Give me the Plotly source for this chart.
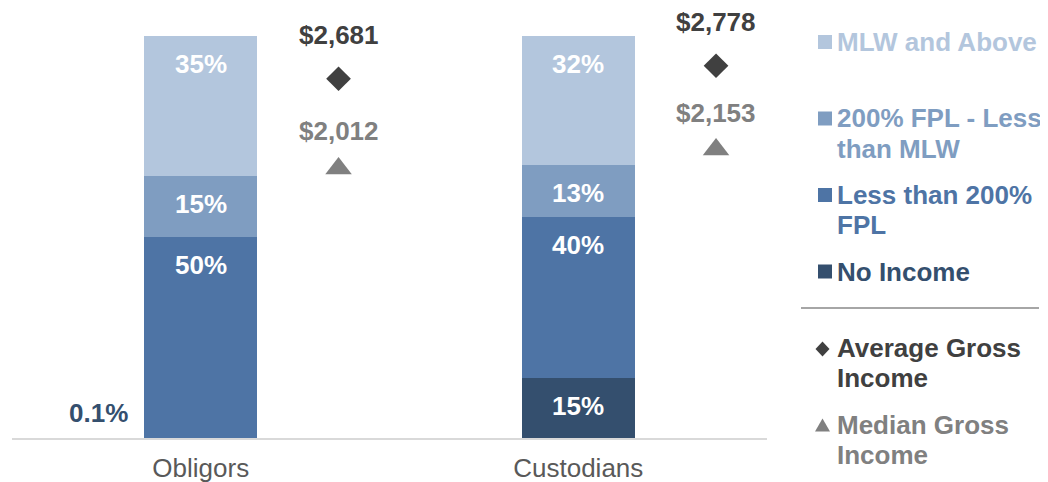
import plotly.graph_objects as go

# ---------------- data ----------------
categories = ["Obligors", "Custodians"]
no_income = [0.1, 15]
less_than_200 = [50, 40]
fpl200_to_mlw = [15, 13]
mlw_and_above = [35, 32]
avg_gross_income = [2681, 2778]
median_gross_income = [2012, 2153]

series_names = ["No Income", "Less than 200% FPL", "200% FPL - Less than MLW", "MLW and Above"]
series_values = [no_income, less_than_200, fpl200_to_mlw, mlw_and_above]
series_colors = ["#344F6E", "#4E74A5", "#7F9DC1", "#B3C6DD"]
avg_color = "#404040"
median_color = "#808080"

FONT = "Liberation Sans, Arial, Helvetica, sans-serif"
FS = 26
BAR_W = 0.3
MARK_OFF = 0.365

# page geometry: the page body has an 8px margin, so the figure is drawn offset by 8px
OFF = 8
W, H = 1048 - OFF, 482 - OFF
# plot area in page pixels: x 12..767, y 36..438
ML, MT = 12 - OFF, 36 - OFF
MR = W - (767 - OFF)
MB = H - (438 - OFF)
PW = W - ML - MR
PH = H - MT - MB


def px_x(page_px):
    return (page_px - OFF - ML) / PW


def px_y(page_py):
    return (H - MB - (page_py - OFF)) / PH


xs = list(range(len(categories)))
fig = go.Figure()

for name, vals, col in zip(series_names, series_values, series_colors):
    fig.add_trace(go.Bar(
        x=xs, y=vals, name=name, width=BAR_W,
        marker=dict(color=col, line=dict(width=0)),
        showlegend=False, hoverinfo="skip",
    ))

fig.add_trace(go.Scatter(
    x=[i + MARK_OFF for i in xs], y=avg_gross_income, yaxis="y2",
    mode="markers", name="Average Gross Income",
    marker=dict(symbol="diamond", size=19, color=avg_color),
    showlegend=False, hoverinfo="skip",
))
fig.add_trace(go.Scatter(
    x=[i + MARK_OFF for i in xs], y=median_gross_income, yaxis="y2",
    mode="markers", name="Median Gross Income",
    marker=dict(symbol="triangle-up", size=23, color=median_color),
    showlegend=False, hoverinfo="skip",
))

annotations = []
# segment labels (inside end)
for i in xs:
    cum = 0
    for si, vals in enumerate(series_values):
        v = vals[i]
        cum += v
        if v >= 1:
            annotations.append(dict(
                x=i, y=min(cum, 100), xref="x", yref="y", text=f"<b>{v:g}%</b>",
                showarrow=False, yshift=-28, yanchor="middle",
                font=dict(family=FONT, size=FS, color="white"),
            ))
        else:
            annotations.append(dict(
                x=i - BAR_W / 2, y=cum, xref="x", yref="y", text=f"<b>{v:g}%</b>",
                showarrow=False, xanchor="right", xshift=-14, yshift=25, yanchor="middle",
                font=dict(family=FONT, size=FS, color=series_colors[si]),
            ))

# income value labels
for i in xs:
    annotations.append(dict(
        x=i + MARK_OFF, y=avg_gross_income[i], xref="x", yref="y2",
        text=f"<b>${avg_gross_income[i]:,}</b>", showarrow=False, yshift=44, yanchor="middle",
        font=dict(family=FONT, size=FS, color=avg_color),
    ))
    annotations.append(dict(
        x=i + MARK_OFF, y=median_gross_income[i], xref="x", yref="y2",
        text=f"<b>${median_gross_income[i]:,}</b>", showarrow=False, yshift=37, yanchor="middle",
        font=dict(family=FONT, size=FS, color=median_color),
    ))

# custom legend
legend_items = [
    (["MLW and Above"], series_colors[3], "square"),
    (["200% FPL - Less", "than MLW"], series_colors[2], "square"),
    (["Less than 200%", "FPL"], series_colors[1], "square"),
    (["No Income"], series_colors[0], "square"),
    (["Average Gross", "Income"], avg_color, "diamond"),
    (["Median Gross", "Income"], median_color, "triangle"),
]
shapes = []
LEG_X_TEXT = 835
LEG_Y0 = 42
LEG_STEP = 76.5
LINE_H = 30
for k, (lines, col, sym) in enumerate(legend_items):
    cy = LEG_Y0 + k * LEG_STEP
    for j, line in enumerate(lines):
        annotations.append(dict(
            x=px_x(LEG_X_TEXT), y=px_y(cy + j * LINE_H), xref="paper", yref="paper",
            text=f"<b>{line}</b>", showarrow=False, xanchor="left", yanchor="middle", align="left",
            font=dict(family=FONT, size=FS, color=col),
        ))
    if sym == "square":
        shapes.append(dict(type="rect", xref="paper", yref="paper",
                           x0=px_x(818), x1=px_x(832), y0=px_y(cy - 7), y1=px_y(cy + 7),
                           fillcolor=col, line=dict(width=0)))
    elif sym == "diamond":
        cx, cyy = 822.5, cy + 1
        path = (f"M {px_x(cx)} {px_y(cyy - 7.5)} L {px_x(cx + 7)} {px_y(cyy)} "
                f"L {px_x(cx)} {px_y(cyy + 7.5)} L {px_x(cx - 7)} {px_y(cyy)} Z")
        shapes.append(dict(type="path", xref="paper", yref="paper", path=path,
                           fillcolor=col, line=dict(width=0)))
    else:
        cx, cyy = 822.5, cy + 1
        path = (f"M {px_x(cx)} {px_y(cyy - 7)} L {px_x(cx + 7.5)} {px_y(cyy + 6)} "
                f"L {px_x(cx - 7.5)} {px_y(cyy + 6)} Z")
        shapes.append(dict(type="path", xref="paper", yref="paper", path=path,
                           fillcolor=col, line=dict(width=0)))

# separator line in legend
shapes.append(dict(type="line", xref="paper", yref="paper",
                   x0=px_x(801), x1=px_x(1039), y0=px_y(308), y1=px_y(308),
                   line=dict(color="#A6A6A6", width=2)))

fig.update_layout(
    width=W, height=H,
    margin=dict(l=ML, r=MR, t=MT, b=MB, autoexpand=False),
    barmode="stack",
    plot_bgcolor="white", paper_bgcolor="white",
    showlegend=False,
    xaxis=dict(
        range=[-0.5, len(categories) - 0.5],
        tickvals=xs, ticktext=categories,
        showline=True, linecolor="#D9D9D9", linewidth=2,
        showgrid=False, zeroline=False, ticks="",
        tickfont=dict(family=FONT, size=FS, color="#595959"),
        ticklabelstandoff=6,
        automargin=False,
    ),
    yaxis=dict(range=[0, 100], visible=False, showgrid=False, zeroline=False),
    yaxis2=dict(range=[0, 3000], overlaying="y", visible=False, showgrid=False, zeroline=False),
    annotations=annotations,
    shapes=shapes,
)

fig.write_html("out.html")
